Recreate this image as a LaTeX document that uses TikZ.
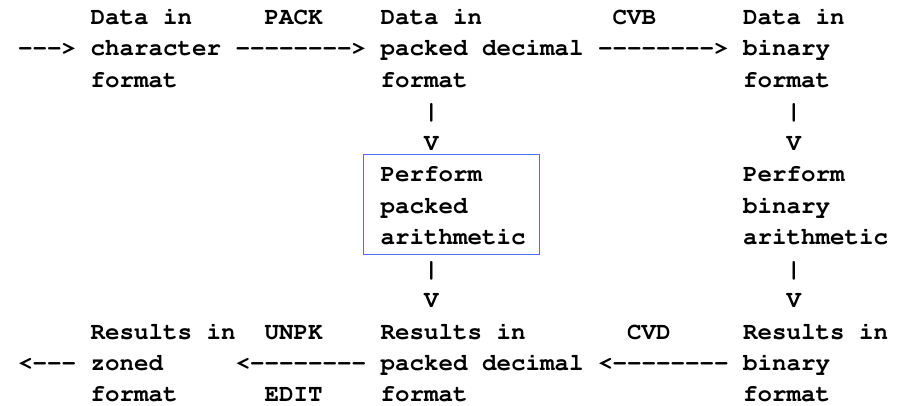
\documentclass[tikz,border=0pt]{standalone}
\usepackage[T1]{fontenc}
\newcommand\xo{18}
\newcommand\cw{14.5}
\newcommand\yo{24.5}
\newcommand\lh{31.45}
\newcommand\hy{-{}}
\newcommand\tok[4]{\node[txt] (#1) at ({\xo+#2*\cw},{\yo+#3*\lh}) {#4};}
\begin{document}
\begin{tikzpicture}[x=1pt,y=-1pt,
  txt/.style={anchor=base west,inner sep=0pt,outer sep=0pt,
    font=\fontfamily{pcr}\fontseries{b}\fontsize{24.17}{29}\selectfont,text=black},
  boxframe/.style={draw={rgb,255:red,80;green,110;blue,250},line width=0.9pt,
    minimum width=176pt,minimum height=100pt,inner sep=0pt}]
\useasboundingbox[fill=white] (0,0) rectangle (909,406);
% row 0
\tok{a0}{5}{0}{Data in}
\tok{pack}{17}{0}{PACK}
\tok{b0}{25}{0}{Data in}
\tok{cvb}{41}{0}{CVB}
\tok{c0}{50}{0}{Data in}
% row 1
\tok{inarr}{0}{1}{\hy\hy\hy>}
\tok{a1}{5}{1}{character}
\tok{arr1}{15}{1}{\hy\hy\hy\hy\hy\hy\hy\hy>}
\tok{b1}{25}{1}{packed decimal}
\tok{arr2}{40}{1}{\hy\hy\hy\hy\hy\hy\hy\hy>}
\tok{c1}{50}{1}{binary}
% row 2
\tok{a2}{5}{2}{format}
\tok{b2}{25}{2}{format}
\tok{c2}{50}{2}{format}
% rows 3-4
\tok{bbar1}{28}{3}{|}
\tok{cbar1}{53}{3}{|}
\tok{bv1}{28}{4}{V}
\tok{cv1}{53}{4}{V}
% rows 5-7
\tok{bp1}{25}{5}{Perform}
\tok{cp1}{50}{5}{Perform}
\tok{bp2}{25}{6}{packed}
\tok{cp2}{50}{6}{binary}
\tok{bp3}{25}{7}{arithmetic}
\tok{cp3}{50}{7}{arithmetic}
\node[boxframe] (pbox) at (451,204.5) {};
% rows 8-9
\tok{bbar2}{28}{8}{|}
\tok{cbar2}{53}{8}{|}
\tok{bv2}{28}{9}{V}
\tok{cv2}{53}{9}{V}
% row 10
\tok{r0}{5}{10}{Results in}
\tok{unpk}{17}{10}{UNPK}
\tok{s0}{25}{10}{Results in}
\tok{cvd}{42}{10}{CVD}
\tok{t0}{50}{10}{Results in}
% row 11
\tok{outarr}{0}{11}{<\hy\hy\hy}
\tok{r1}{5}{11}{zoned}
\tok{arr3}{15}{11}{<\hy\hy\hy\hy\hy\hy\hy\hy}
\tok{s1}{25}{11}{packed decimal}
\tok{arr4}{40}{11}{<\hy\hy\hy\hy\hy\hy\hy\hy}
\tok{t1}{50}{11}{binary}
% row 12
\tok{r2}{5}{12}{format}
\tok{edit}{17}{12}{EDIT}
\tok{s2}{25}{12}{format}
\tok{t2}{50}{12}{format}
\end{tikzpicture}
\end{document}
